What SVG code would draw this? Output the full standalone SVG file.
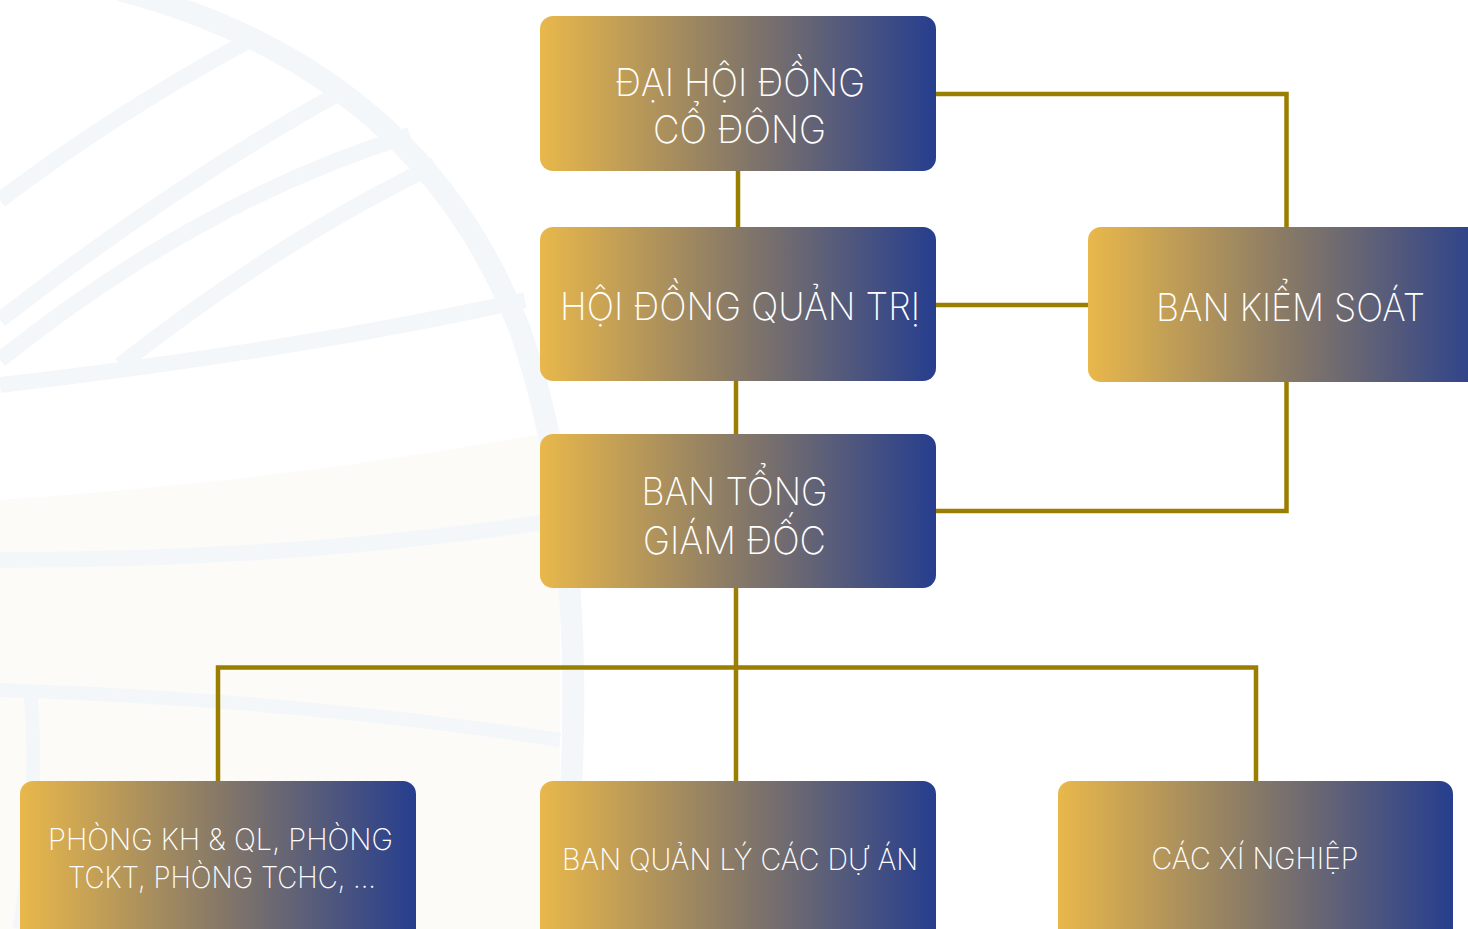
<svg xmlns="http://www.w3.org/2000/svg" width="1468" height="929" viewBox="0 0 1468 929">
  <defs>
    <linearGradient id="g" x1="0" y1="0" x2="1" y2="0">
      <stop offset="0" stop-color="#E9B84B"/>
      <stop offset="0.5" stop-color="#877967"/>
      <stop offset="1" stop-color="#263E8E"/>
    </linearGradient>
    <style>
      .box { fill: url(#g); }
      .t { fill: #ffffff; font-family: Inter, "Lato", "Liberation Sans", sans-serif; font-weight: 250; text-anchor: middle; }
      .big { font-size: 38px; }
      .small { font-size: 30px; }
      .wm { fill: none; stroke: #f4f7fa; }
      .c { fill: none; stroke: #9A7E00; stroke-width: 4.5; }
    </style>
  </defs>
  <rect width="1468" height="929" fill="#ffffff"/>
  <g id="watermark">
    <path d="M0 500 L0 929 L560 929 L560 430 Q300 480 0 500 Z" fill="#fcfbf8"/>
    <path class="wm" stroke-width="22" d="M120 -10 Q420 70 520 330 Q600 560 560 929"/>
    <path class="wm" stroke-width="16" d="M0 200 Q120 110 250 40"/>
    <path class="wm" stroke-width="16" d="M0 320 Q180 180 345 90"/>
    <path class="wm" stroke-width="16" d="M0 360 Q200 200 410 135"/>
    <path class="wm" stroke-width="16" d="M120 365 Q280 240 435 165"/>
    <path class="wm" stroke-width="16" d="M0 385 Q300 350 525 300"/>
    <path class="wm" stroke-width="16" d="M0 560 Q300 560 560 520"/>
    <path class="wm" stroke-width="14" d="M20 929 Q40 780 30 690"/>
    <path class="wm" stroke-width="14" d="M0 690 Q300 700 560 740"/>
  </g>
  <g id="connectors">
    <path class="c" d="M738 171 V227"/>
    <path class="c" d="M936 94 H1286.5 V227"/>
    <path class="c" d="M936 305 H1088"/>
    <path class="c" d="M736 381 V434"/>
    <path class="c" d="M1286.5 382 V511 H936"/>
    <path class="c" d="M736 588 V781"/>
    <path class="c" d="M218 781 V667.5 H1256 V781"/>
  </g>
  <g id="dhdcd">
    <rect class="box" x="540" y="16" width="396" height="155" rx="13"/>
    <text class="t big" x="740" y="96" textLength="250" lengthAdjust="spacingAndGlyphs">ĐẠI HỘI ĐỒNG</text>
    <text class="t big" x="739.5" y="143" textLength="173" lengthAdjust="spacingAndGlyphs">CỔ ĐÔNG</text>
  </g>
  <g id="hdqt">
    <rect class="box" x="540" y="227" width="396" height="154" rx="13"/>
    <text class="t big" x="740" y="320" textLength="360" lengthAdjust="spacingAndGlyphs">HỘI ĐỒNG QUẢN TRỊ</text>
  </g>
  <g id="bks">
    <rect class="box" x="1088" y="227" width="402" height="155" rx="13"/>
    <text class="t big" x="1290.5" y="321" textLength="269" lengthAdjust="spacingAndGlyphs">BAN KIỂM SOÁT</text>
  </g>
  <g id="btgd">
    <rect class="box" x="540" y="434" width="396" height="154" rx="13"/>
    <text class="t big" x="734.5" y="505" textLength="186" lengthAdjust="spacingAndGlyphs">BAN TỔNG</text>
    <text class="t big" x="734.5" y="554" textLength="183" lengthAdjust="spacingAndGlyphs">GIÁM ĐỐC</text>
  </g>
  <g id="phong">
    <rect class="box" x="20" y="781" width="396" height="170" rx="13"/>
    <text class="t small" x="220.5" y="850" textLength="345" lengthAdjust="spacingAndGlyphs">PHÒNG KH &amp; QL, PHÒNG</text>
    <text class="t small" x="222" y="888" textLength="308" lengthAdjust="spacingAndGlyphs">TCKT, PHÒNG TCHC, ...</text>
  </g>
  <g id="bqlda">
    <rect class="box" x="540" y="781" width="396" height="170" rx="13"/>
    <text class="t small" x="740" y="870" textLength="356" lengthAdjust="spacingAndGlyphs">BAN QUẢN LÝ CÁC DỰ ÁN</text>
  </g>
  <g id="xinghiep">
    <rect class="box" x="1058" y="781" width="395" height="170" rx="13"/>
    <text class="t small" x="1255" y="869" textLength="207" lengthAdjust="spacingAndGlyphs">CÁC XÍ NGHIỆP</text>
  </g>
</svg>
